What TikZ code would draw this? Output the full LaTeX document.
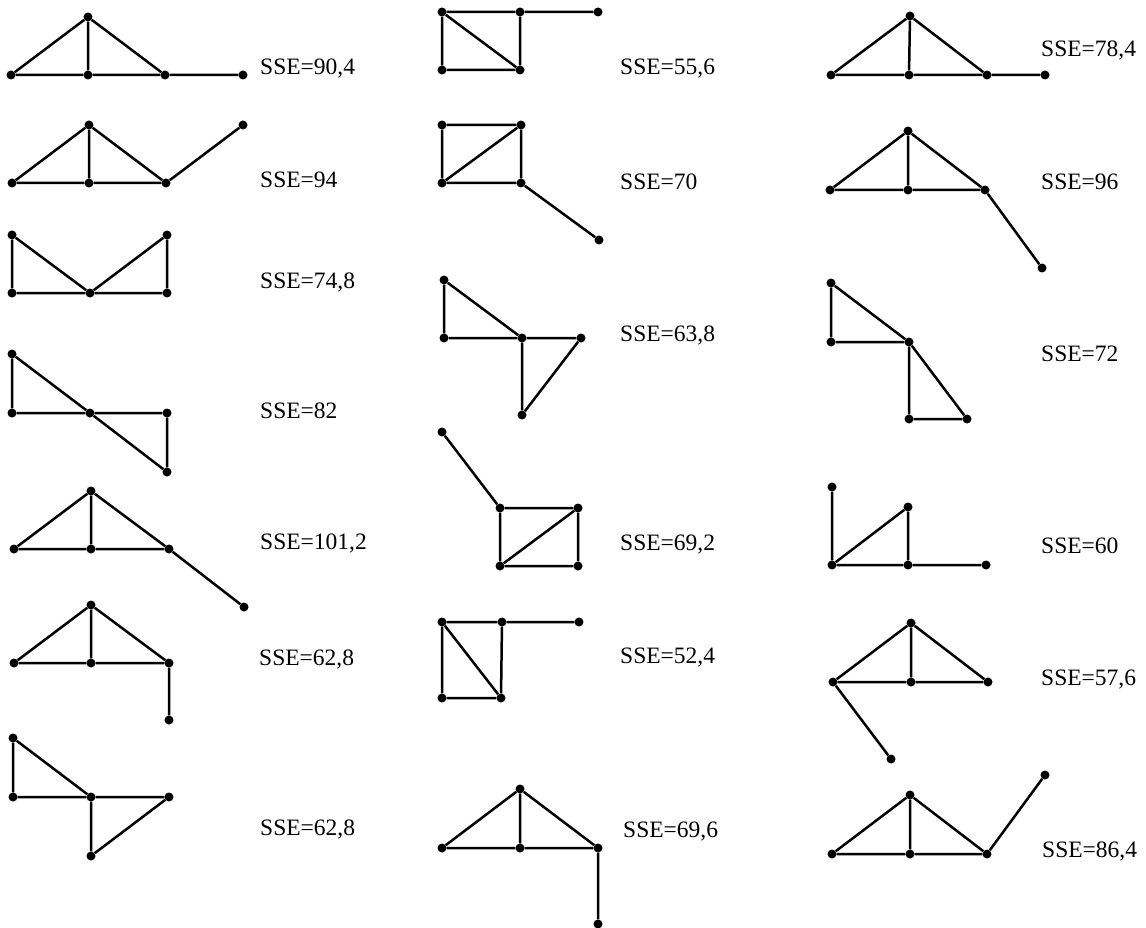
\documentclass[tikz,border=0pt]{standalone}
\usepackage{fontspec}
\setmainfont{Liberation Serif}
\begin{document}
\begin{tikzpicture}[x=1pt,y=-1pt,
  dot/.style={circle,fill=black,draw=none,inner sep=0pt,minimum size=9pt},
  ln/.style={line width=2.5pt,black},
  lbl/.style={anchor=base west,inner sep=0pt,font=\fontsize{23.5}{28}\selectfont}]
\useasboundingbox (0,0) rectangle (1146,928);
% ---------- left column ----------
% G1
\node[dot] (g1a) at (88,17) {};
\node[dot] (g1b) at (11,75) {};
\node[dot] (g1c) at (88,75) {};
\node[dot] (g1d) at (165,75) {};
\node[dot] (g1e) at (243,75) {};
\draw[ln] (g1b)--(g1a) (g1a)--(g1c) (g1a)--(g1d) (g1b)--(g1c) (g1c)--(g1d) (g1d)--(g1e);
\node[lbl] (t1) at (260,75) {SSE=90,4};
% G2
\node[dot] (g2a) at (89,125) {};
\node[dot] (g2b) at (12,183) {};
\node[dot] (g2c) at (89,183) {};
\node[dot] (g2d) at (166,183) {};
\node[dot] (g2e) at (243,125) {};
\draw[ln] (g2b)--(g2a) (g2a)--(g2c) (g2a)--(g2d) (g2b)--(g2c) (g2c)--(g2d) (g2d)--(g2e);
\node[lbl] (t2) at (260,188) {SSE=94};
% G3
\node[dot] (g3a) at (12,235) {};
\node[dot] (g3b) at (167,235) {};
\node[dot] (g3c) at (12,293) {};
\node[dot] (g3d) at (90,293) {};
\node[dot] (g3e) at (167,293) {};
\draw[ln] (g3a)--(g3c) (g3a)--(g3d) (g3d)--(g3b) (g3b)--(g3e) (g3c)--(g3d) (g3d)--(g3e);
\node[lbl] (t3) at (260,288) {SSE=74,8};
% G4
\node[dot] (g4a) at (12,354) {};
\node[dot] (g4b) at (12,413) {};
\node[dot] (g4c) at (90,413) {};
\node[dot] (g4d) at (167,413) {};
\node[dot] (g4e) at (167,472) {};
\draw[ln] (g4a)--(g4b) (g4a)--(g4c) (g4c)--(g4e) (g4b)--(g4c) (g4c)--(g4d) (g4d)--(g4e);
\node[lbl] (t4) at (260,418) {SSE=82};
% G5
\node[dot] (g5a) at (91,491) {};
\node[dot] (g5b) at (14,549) {};
\node[dot] (g5c) at (91,549) {};
\node[dot] (g5d) at (169,549) {};
\node[dot] (g5e) at (244,607) {};
\draw[ln] (g5b)--(g5a) (g5a)--(g5c) (g5a)--(g5d) (g5d)--(g5e) (g5b)--(g5c) (g5c)--(g5d);
\node[lbl] (t5) at (260,549) {SSE=101,2};
% G6
\node[dot] (g6a) at (91,605) {};
\node[dot] (g6b) at (14,663) {};
\node[dot] (g6c) at (91,663) {};
\node[dot] (g6d) at (169,663) {};
\node[dot] (g6e) at (169,720) {};
\draw[ln] (g6b)--(g6a) (g6a)--(g6c) (g6a)--(g6d) (g6b)--(g6c) (g6c)--(g6d) (g6d)--(g6e);
\node[lbl] (t6) at (259,665) {SSE=62,8};
% G7
\node[dot] (g7a) at (13,738) {};
\node[dot] (g7b) at (13,797) {};
\node[dot] (g7c) at (91,797) {};
\node[dot] (g7d) at (169,797) {};
\node[dot] (g7e) at (91,856) {};
\draw[ln] (g7a)--(g7b) (g7a)--(g7c) (g7b)--(g7c) (g7c)--(g7d) (g7c)--(g7e) (g7e)--(g7d);
\node[lbl] (t7) at (260,835) {SSE=62,8};
% ---------- middle column ----------
% G8
\node[dot] (g8a) at (442,12) {};
\node[dot] (g8b) at (520,12) {};
\node[dot] (g8c) at (598,12) {};
\node[dot] (g8d) at (442,70) {};
\node[dot] (g8e) at (520,70) {};
\draw[ln] (g8a)--(g8b) (g8b)--(g8c) (g8a)--(g8d) (g8a)--(g8e) (g8b)--(g8e) (g8d)--(g8e);
\node[lbl] (t8) at (620,75) {SSE=55,6};
% G9
\node[dot] (g9a) at (442,125) {};
\node[dot] (g9b) at (521,125) {};
\node[dot] (g9c) at (442,183) {};
\node[dot] (g9d) at (521,183) {};
\node[dot] (g9e) at (599,240) {};
\draw[ln] (g9a)--(g9b) (g9a)--(g9c) (g9b)--(g9d) (g9c)--(g9d) (g9c)--(g9b) (g9d)--(g9e);
\node[lbl] (t9) at (620,190) {SSE=70};
% G10
\node[dot] (g10a) at (444,280) {};
\node[dot] (g10b) at (444,338) {};
\node[dot] (g10c) at (522,338) {};
\node[dot] (g10d) at (581,338) {};
\node[dot] (g10e) at (522,415) {};
\draw[ln] (g10a)--(g10b) (g10a)--(g10c) (g10b)--(g10c) (g10c)--(g10d) (g10c)--(g10e) (g10e)--(g10d);
\node[lbl] (t10) at (620,341) {SSE=63,8};
% G11
\node[dot] (g11a) at (442,432) {};
\node[dot] (g11b) at (500,508) {};
\node[dot] (g11c) at (578,508) {};
\node[dot] (g11d) at (500,566) {};
\node[dot] (g11e) at (578,566) {};
\draw[ln] (g11a)--(g11b) (g11b)--(g11c) (g11c)--(g11e) (g11e)--(g11d) (g11d)--(g11b) (g11d)--(g11c);
\node[lbl] (t11) at (620,550) {SSE=69,2};
% G12
\node[dot] (g12a) at (442,622) {};
\node[dot] (g12b) at (502,622) {};
\node[dot] (g12c) at (579,622) {};
\node[dot] (g12d) at (442,698) {};
\node[dot] (g12e) at (501,698) {};
\draw[ln] (g12a)--(g12b) (g12b)--(g12c) (g12a)--(g12d) (g12a)--(g12e) (g12b)--(g12e) (g12d)--(g12e);
\node[lbl] (t12) at (620,663) {SSE=52,4};
% G13
\node[dot] (g13a) at (520,789) {};
\node[dot] (g13b) at (442,848) {};
\node[dot] (g13c) at (520,848) {};
\node[dot] (g13d) at (598,848) {};
\node[dot] (g13e) at (598,924) {};
\draw[ln] (g13b)--(g13a) (g13a)--(g13c) (g13a)--(g13d) (g13b)--(g13c) (g13c)--(g13d) (g13d)--(g13e);
\node[lbl] (t13) at (623,837) {SSE=69,6};
% ---------- right column ----------
% G14
\node[dot] (g14a) at (910,16) {};
\node[dot] (g14b) at (831,75) {};
\node[dot] (g14c) at (909,75) {};
\node[dot] (g14d) at (987,75) {};
\node[dot] (g14e) at (1045,75) {};
\draw[ln] (g14b)--(g14a) (g14a)--(g14c) (g14a)--(g14d) (g14b)--(g14c) (g14c)--(g14d) (g14d)--(g14e);
\node[lbl] (t14) at (1041,57) {SSE=78,4};
% G15
\node[dot] (g15a) at (908,131) {};
\node[dot] (g15b) at (830,190) {};
\node[dot] (g15c) at (908,190) {};
\node[dot] (g15d) at (985,190) {};
\node[dot] (g15e) at (1042,268) {};
\draw[ln] (g15b)--(g15a) (g15a)--(g15c) (g15a)--(g15d) (g15b)--(g15c) (g15c)--(g15d) (g15d)--(g15e);
\node[lbl] (t15) at (1041,190) {SSE=96};
% G16
\node[dot] (g16a) at (831,283) {};
\node[dot] (g16b) at (831,342) {};
\node[dot] (g16c) at (909,342) {};
\node[dot] (g16d) at (909,419) {};
\node[dot] (g16e) at (967,419) {};
\draw[ln] (g16a)--(g16b) (g16a)--(g16c) (g16b)--(g16c) (g16c)--(g16d) (g16c)--(g16e) (g16d)--(g16e);
\node[lbl] (t16) at (1041,361) {SSE=72};
% G17
\node[dot] (g17a) at (832,487) {};
\node[dot] (g17b) at (832,565) {};
\node[dot] (g17c) at (908,507) {};
\node[dot] (g17d) at (908,565) {};
\node[dot] (g17e) at (986,565) {};
\draw[ln] (g17a)--(g17b) (g17b)--(g17c) (g17c)--(g17d) (g17b)--(g17d) (g17d)--(g17e);
\node[lbl] (t17) at (1041,553) {SSE=60};
% G18
\node[dot] (g18a) at (911,623) {};
\node[dot] (g18b) at (833,682) {};
\node[dot] (g18c) at (911,682) {};
\node[dot] (g18d) at (988,682) {};
\node[dot] (g18e) at (891,759) {};
\draw[ln] (g18b)--(g18a) (g18a)--(g18c) (g18a)--(g18d) (g18b)--(g18c) (g18c)--(g18d) (g18b)--(g18e);
\node[lbl] (t18) at (1041,685) {SSE=57,6};
% G19
\node[dot] (g19a) at (910,795) {};
\node[dot] (g19b) at (832,854) {};
\node[dot] (g19c) at (910,854) {};
\node[dot] (g19d) at (987,854) {};
\node[dot] (g19e) at (1045,775) {};
\draw[ln] (g19b)--(g19a) (g19a)--(g19c) (g19a)--(g19d) (g19b)--(g19c) (g19c)--(g19d) (g19d)--(g19e);
\node[lbl] (t19) at (1042,857) {SSE=86,4};
\end{tikzpicture}
\end{document}
